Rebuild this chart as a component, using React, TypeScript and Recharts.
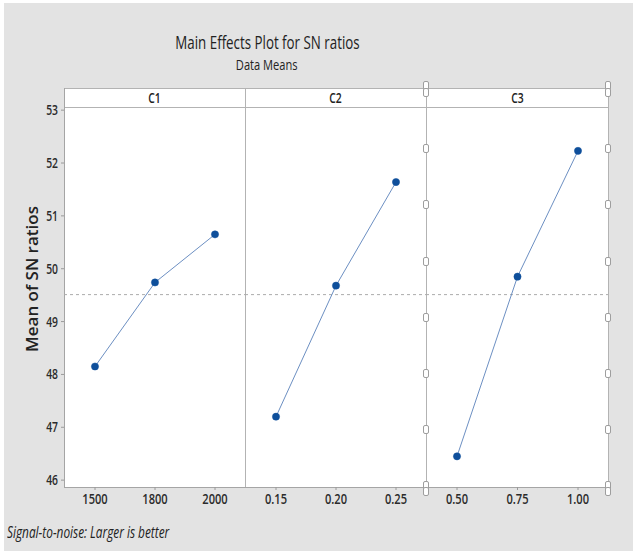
import { LineChart, Line, XAxis, YAxis, ReferenceLine } from 'recharts'

// factor levels and the mean SN ratio at each level
const factorNames = ['C1', 'C2', 'C3']
const c1Levels = ['1500', '1800', '2000']
const c1Means = [48.15, 49.74, 50.65]
const c2Levels = ['0.15', '0.20', '0.25']
const c2Means = [47.2, 49.68, 51.64]
const c3Levels = ['0.50', '0.75', '1.00']
const c3Means = [46.45, 49.85, 52.23]
const yTicks = [46, 47, 48, 49, 50, 51, 52, 53]

const allMeans = [...c1Means, ...c2Means, ...c3Means]
const grandMean = allMeans.reduce((a, b) => a + b, 0) / allMeans.length

const W = 633
const H = 551
const LEFT = 64
const HEAD_TOP = 88
const TOP = 107
const BOTTOM = 487
const panelWidths = [181, 181, 182]
const SX = 0.74
const FONT = '"Open Sans", "Noto Sans", sans-serif'
const FRAME = '#b3b3b3'

const panels = [
  { levels: c1Levels, means: c1Means },
  { levels: c2Levels, means: c2Means },
  { levels: c3Levels, means: c3Means },
].map((p, i) => ({
  name: factorNames[i],
  data: p.levels.map((level, j) => ({ level, mean: p.means[j] })),
}))

function XTick({ x, y, payload }: any) {
  return (
    <text
      transform={`translate(${x},${y + 12}) scale(${SX},1)`}
      textAnchor="middle"
      fontFamily={FONT}
      fontSize={15}
      fontWeight={600}
      fill="#2b2b2b"
    >
      {payload.value}
    </text>
  )
}

function YTick({ x, y, payload }: any) {
  return (
    <text
      transform={`translate(${x},${y + 5}) scale(${SX},1)`}
      textAnchor="end"
      fontFamily={FONT}
      fontSize={14}
      fontWeight={600}
      fill="#2b2b2b"
    >
      {payload.value}
    </text>
  )
}

function Rule({ left, top, width, height, color = FRAME }: any) {
  return <div style={{ position: 'absolute', left, top, width, height, background: color }} />
}

function Handle({ left, top }: any) {
  return (
    <div
      style={{
        position: 'absolute',
        left: left - 3,
        top: top - 4,
        width: 4,
        height: 7,
        background: '#fff',
        border: '1px solid #9e9e9e',
        borderRadius: 2,
      }}
    />
  )
}

function Squish({ children, style }: any) {
  return (
    <div style={{ position: 'absolute', whiteSpace: 'nowrap', fontFamily: FONT, color: '#222', ...style }}>
      <span style={{ display: 'inline-block', transform: `scaleX(${SX})`, transformOrigin: style.transformOrigin || 'center' }}>
        {children}
      </span>
    </div>
  )
}

export default function App() {
  const plotRight = LEFT + panelWidths.reduce((a, b) => a + b, 0)
  let x0 = LEFT
  const panelLefts = panelWidths.map(w => {
    const l = x0
    x0 += w
    return l
  })
  const c3Left = panelLefts[2]
  const handleYs = [85, ...Array.from({ length: 8 }, (_, i) => 92 + i * 56.2), 491]

  return (
    <div style={{ position: 'absolute', left: 0, top: 0, width: W, height: H, background: '#fff', overflow: 'hidden' }}>
      <div style={{ position: 'absolute', left: 4, top: 3, right: 0, bottom: 0, background: '#e3e3e3' }} />

      <Squish style={{ left: 0, width: 534, top: 29, textAlign: 'center', fontSize: 18, fontWeight: 500, lineHeight: '26px' }}>
        Main Effects Plot for SN ratios
      </Squish>
      <Squish style={{ left: 0, width: 534, top: 54, textAlign: 'center', fontSize: 15, fontWeight: 500, lineHeight: '20px' }}>
        Data Means
      </Squish>

      {/* header strip and plot frame */}
      <div style={{ position: 'absolute', left: LEFT, top: HEAD_TOP, width: plotRight - LEFT, height: BOTTOM - HEAD_TOP, background: '#fff' }} />
      <Rule left={LEFT} top={HEAD_TOP} width={plotRight - LEFT + 1} height={1} />
      <Rule left={LEFT} top={TOP} width={plotRight - LEFT + 1} height={1} />
      <Rule left={LEFT} top={BOTTOM} width={plotRight - LEFT + 1} height={1} color="#a5a5a5" />
      <Rule left={LEFT} top={HEAD_TOP} width={1} height={BOTTOM - HEAD_TOP} color="#a5a5a5" />
      {panelLefts.slice(1).map(l => (
        <Rule key={l} left={l} top={HEAD_TOP} width={1} height={BOTTOM - HEAD_TOP} />
      ))}
      <Rule left={plotRight} top={HEAD_TOP} width={1} height={BOTTOM - HEAD_TOP} />

      {panels.map((p, i) => (
        <Squish
          key={p.name}
          style={{ left: panelLefts[i], width: panelWidths[i], top: HEAD_TOP + 1, textAlign: 'center', fontSize: 14, fontWeight: 600, lineHeight: '18px' }}
        >
          {p.name}
        </Squish>
      ))}

      {panels.map((p, i) => {
        const first = i === 0
        return (
          <div key={p.name} style={{ position: 'absolute', left: first ? 0 : panelLefts[i], top: 0 }}>
            <LineChart
              width={first ? LEFT + panelWidths[i] : panelWidths[i]}
              height={H}
              data={p.data}
              margin={{ top: TOP, right: 0, bottom: 0, left: 0 }}
            >
              <XAxis
                dataKey="level"
                type="category"
                height={H - BOTTOM}
                padding={{ left: 31, right: 30 }}
                axisLine={false}
                tickSize={3}
                tickMargin={2}
                tickLine={{ stroke: '#9a9a9a' }}
                tick={<XTick />}
                interval={0}
              />
              <YAxis
                hide={!first}
                width={LEFT}
                domain={[45.87, 53.06]}
                ticks={yTicks}
                type="number"
                axisLine={false}
                tickSize={3}
                tickMargin={3}
                tickLine={{ stroke: '#9a9a9a' }}
                tick={<YTick />}
                allowDataOverflow
              />
              <ReferenceLine y={grandMean} stroke="#ababab" strokeDasharray="3 3" ifOverflow="extendDomain" />
              <Line
                dataKey="mean"
                stroke="#6c8fc2"
                strokeWidth={1}
                dot={{ r: 3.6, fill: '#0e4f9b', stroke: '#0e4f9b', strokeWidth: 0.5 }}
                isAnimationActive={false}
              />
            </LineChart>
          </div>
        )
      })}

      {handleYs.map(y => (
        <Handle key={'l' + y} left={c3Left} top={y} />
      ))}
      {handleYs.map(y => (
        <Handle key={'r' + y} left={plotRight} top={y} />
      ))}

      <div
        style={{
          position: 'absolute',
          left: 31,
          top: 279,
          transform: 'translate(-50%, -50%) rotate(-90deg)',
          whiteSpace: 'nowrap',
          fontFamily: FONT,
          fontSize: 17,
          fontWeight: 600,
          color: '#222',
        }}
      >
        Mean of SN ratios
      </div>

      <Squish style={{ left: 7, top: 522, fontSize: 16, fontStyle: 'italic', lineHeight: '20px', transformOrigin: 'left' }}>
        Signal-to-noise: Larger is better
      </Squish>
    </div>
  )
}
